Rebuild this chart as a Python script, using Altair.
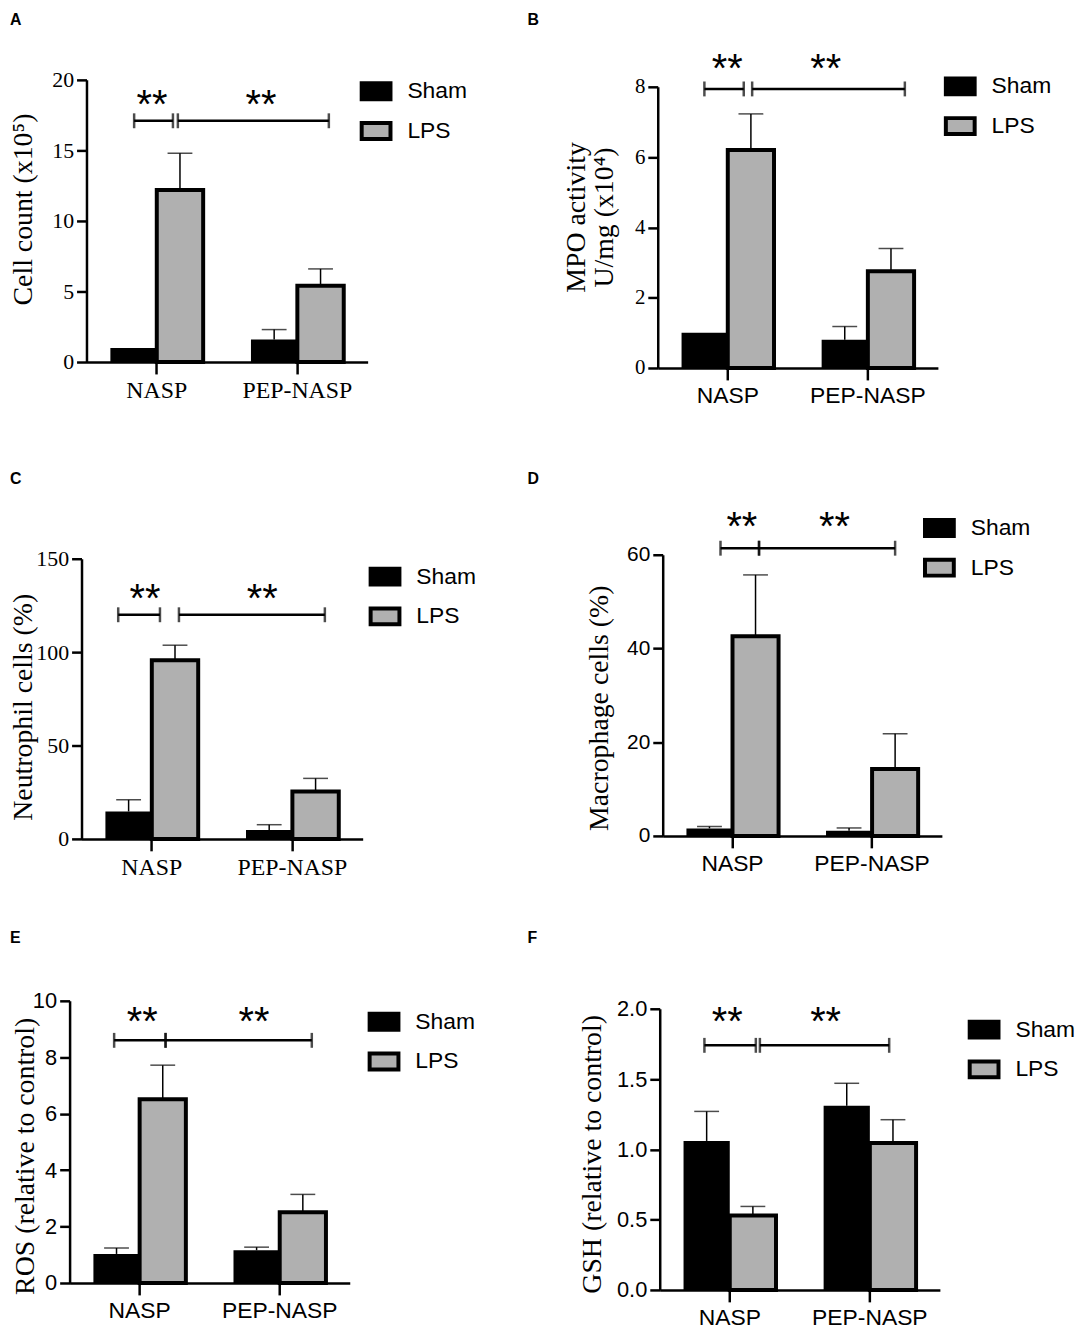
import altair as alt
import pandas as pd

CATEGORIES = ["NASP", "PEP-NASP"]
GROUPS = ["Sham", "LPS"]
COLORS = ["#000000", "#b0b0b0"]
STARS = "**"

# ---- Panel A : Cell count ----
A_SHAM = [1.0, 1.6]
A_SHAM_SEM = [0.0, 0.7]
A_LPS = [12.2, 5.4]
A_LPS_SEM = [2.6, 1.2]
A_TICKS = [0, 5, 10, 15, 20]
A_BRACKETS = [[0.339, 0.615], [0.650, 1.724]]
A_BRACKET_Y = 17.1
A_STAR_X = [0.466, 1.241]
A_STAR_Y = 18.6

# ---- Panel B : MPO activity ----
B_SHAM = [1.0, 0.8]
B_SHAM_SEM = [0.0, 0.38]
B_LPS = [6.2, 2.75]
B_LPS_SEM = [1.03, 0.65]
B_TICKS = [0, 2, 4, 6, 8]
B_BRACKETS = [[0.333, 0.614], [0.674, 1.764]]
B_BRACKET_Y = 7.94
B_STAR_X = [0.496, 1.199]
B_STAR_Y = 8.64

# ---- Panel C : Neutrophil cells ----
C_SHAM = [14.7, 4.8]
C_SHAM_SEM = [6.2, 2.8]
C_LPS = [95.6, 25.4]
C_LPS_SEM = [8.1, 7.0]
C_TICKS = [0, 50, 100, 150]
C_BRACKETS = [[0.261, 0.558], [0.693, 1.731]]
C_BRACKET_Y = 120
C_STAR_X = [0.452, 1.286]
C_STAR_Y = 131

# ---- Panel D : Macrophage cells ----
D_SHAM = [1.6, 1.1]
D_SHAM_SEM = [0.4, 0.6]
D_LPS = [42.6, 14.3]
D_LPS_SEM = [13.1, 7.5]
D_TICKS = [0, 20, 40, 60]
D_BRACKETS = [[0.414, 0.690], [0.690, 1.665]]
D_BRACKET_Y = 61.4
D_STAR_X = [0.567, 1.231]
D_STAR_Y = 67

# ---- Panel E : ROS ----
E_SHAM = [1.03, 1.16]
E_SHAM_SEM = [0.21, 0.11]
E_LPS = [6.51, 2.51]
E_LPS_SEM = [1.21, 0.63]
E_TICKS = [0, 2, 4, 6, 8, 10]
E_BRACKETS = [[0.318, 0.685], [0.685, 1.729]]
E_BRACKET_Y = 8.6
E_STAR_X = [0.518, 1.316]
E_STAR_Y = 9.44

# ---- Panel F : GSH ----
F_SHAM = [1.06, 1.31]
F_SHAM_SEM = [0.21, 0.16]
F_LPS = [0.53, 1.046]
F_LPS_SEM = [0.064, 0.165]
F_TICKS = [0.0, 0.5, 1.0, 1.5, 2.0]
F_BRACKETS = [[0.319, 0.686], [0.715, 1.638]]
F_BRACKET_Y = 1.74
F_STAR_X = [0.482, 1.184]
F_STAR_Y = 1.94

SERIF = "Liberation Serif"
SANS = "Liberation Sans"
CELL_W = 300
CELL_H = 301


def make_panel(letter, sham, sham_sem, lps, lps_sem, ticks, brackets, br_y,
               star_x, star_y, title, lay, anchor=False):
    rows = []
    for i, c in enumerate(CATEGORIES):
        rows.append(dict(cat=c, group="Sham", value=sham[i],
                         top=sham[i] + sham_sem[i], sem=sham_sem[i]))
        rows.append(dict(cat=c, group="LPS", value=lps[i],
                         top=lps[i] + lps_sem[i], sem=lps_sem[i]))
    df = pd.DataFrame(rows)

    dx, dy, w, h = lay["dx"], lay["dy"], lay["w"], lay["h"]
    yscale = alt.Scale(domain=[ticks[0], ticks[-1]], range=[dy + h, dy],
                       nice=False, zero=True)
    yaxis = alt.Axis(
        values=ticks, format=lay["fmt"], title=title,
        titleFont=SERIF, titleFontSize=28, titleFontWeight="normal",
        titleColor="black", titleAngle=270, titleX=lay["tx"], titleY=lay["ty"],
        titleAlign="center", titleBaseline="alphabetic", titleLineHeight=28,
        labelFont=lay["yfont"], labelFontSize=lay["ysize"], labelColor="black",
        labelPadding=3, tickSize=10, tickWidth=2.5, tickColor="black",
        domainColor="black", domainWidth=2.5, grid=False, offset=-dx)
    xscale = alt.Scale(domain=CATEGORIES, range=[dx, dx + w],
                       paddingInner=0.34, paddingOuter=0.17)
    xaxis = alt.Axis(
        title=None, labelAngle=0, labelFont=lay["xfont"],
        labelFontSize=lay["xsize"], labelColor="black", labelPadding=5,
        tickSize=12, tickWidth=2.5, tickColor="black", domainColor="black",
        domainWidth=2.5, grid=False, offset=dy + h - CELL_H)

    X = alt.X("cat:N", scale=xscale, axis=xaxis, sort=CATEGORIES)
    XO = alt.XOffset("group:N", scale=alt.Scale(domain=GROUPS), sort=GROUPS)
    legend = alt.Legend(
        title=None, orient="none", legendX=lay["lx"], legendY=lay["ly"],
        symbolType="M-1,-0.552H1V0.552H-1Z", symbolSize=841,
        symbolStrokeColor="black", symbolStrokeWidth=4, symbolOpacity=1,
        labelFont=SANS, labelFontSize=23, labelColor="black", labelOffset=15,
        rowPadding=7, padding=0, direction="vertical")
    COL = alt.Color("group:N", scale=alt.Scale(domain=GROUPS, range=COLORS),
                    legend=legend)

    base = alt.Chart(df)
    sham_bars = base.transform_filter("datum.group == 'Sham'").mark_bar(
        strokeWidth=0).encode(x=X, xOffset=XO,
                              y=alt.Y("value:Q", scale=yscale, axis=yaxis),
                              color=COL)
    lps_bars = base.transform_filter("datum.group == 'LPS'").mark_bar(
        stroke="black", strokeWidth=4).encode(
        x=X, xOffset=XO, y=alt.Y("value:Q", scale=yscale, axis=yaxis),
        color=COL)
    err = base.transform_filter("datum.sem > 0").mark_rule(
        color="black", strokeWidth=1.5).encode(
        x=X, xOffset=XO, y=alt.Y("value:Q", scale=yscale, axis=yaxis),
        y2="top:Q")
    caps = base.transform_filter("datum.sem > 0").mark_tick(
        color="black", thickness=1.5, size=25, orient="horizontal").encode(
        x=X, xOffset=XO, y=alt.Y("top:Q", scale=yscale, axis=yaxis))
    bars = alt.layer(sham_bars, lps_bars, err, caps)

    ux = alt.Scale(domain=[0, 2], range=[dx, dx + w], nice=False, zero=False)
    bdf = pd.DataFrame({"x1": [b[0] for b in brackets],
                        "x2": [b[1] for b in brackets],
                        "y": [br_y] * len(brackets)})
    ends = pd.DataFrame({"bx": [v for b in brackets for v in b],
                         "y": [br_y] * (2 * len(brackets))})
    sdf = pd.DataFrame({"sx": star_x, "sy": [star_y] * len(star_x),
                        "t": [STARS] * len(star_x)})
    br_lines = alt.Chart(bdf).mark_rule(color="black", strokeWidth=2.5).encode(
        x=alt.X("x1:Q", scale=ux, axis=None), x2="x2:Q",
        y=alt.Y("y:Q", scale=yscale, axis=yaxis))
    br_caps = alt.Chart(ends).mark_tick(
        color="black", thickness=2.5, size=15, orient="vertical").encode(
        x=alt.X("bx:Q", scale=ux, axis=None),
        y=alt.Y("y:Q", scale=yscale, axis=yaxis))
    stars = alt.Chart(sdf).mark_text(
        font=SANS, fontSize=40, align="center", baseline="alphabetic",
        dy=18, color="black").encode(
        x=alt.X("sx:Q", scale=ux, axis=None),
        y=alt.Y("sy:Q", scale=yscale, axis=yaxis), text="t:N")
    lab = alt.Chart(pd.DataFrame({"t": [letter]})).mark_text(
        font=SANS, fontSize=16, fontWeight="bold", align="left",
        baseline="alphabetic", color="black").encode(
        x=alt.value(lay["px"]), y=alt.value(lay["py"]), text="t:N")
    ann_layers = [br_lines, br_caps, stars, lab]
    if anchor:
        anc = alt.Chart(pd.DataFrame({"a": [0]})).mark_rect(opacity=0).encode(
            x=alt.value(-62), x2=alt.value(-58),
            y=alt.value(-68), y2=alt.value(-64))
        ann_layers.append(anc)
    ann = alt.layer(*ann_layers)
    return alt.layer(bars, ann).resolve_scale(x="independent").properties(
        width=CELL_W, height=CELL_H)


pA = make_panel("A", A_SHAM, A_SHAM_SEM, A_LPS, A_LPS_SEM, A_TICKS, A_BRACKETS,
                A_BRACKET_Y, A_STAR_X, A_STAR_Y, "Cell count (x10\u2075)",
                dict(dx=17, dy=0, w=283, h=284, tx=-55.5, ty=130, fmt="d",
                     yfont=SERIF, ysize=22, xfont=SERIF, xsize=24,
                     lx=292, ly=-5, px=-60, py=-55), anchor=True)
pB = make_panel("B", B_SHAM, B_SHAM_SEM, B_LPS, B_LPS_SEM, B_TICKS, B_BRACKETS,
                B_BRACKET_Y, B_STAR_X, B_STAR_Y,
                ["MPO activity", "U/mg (x10\u2074)"],
                dict(dx=0, dy=7, w=282, h=283, tx=-73.5, ty=138, fmt="d",
                     yfont=SERIF, ysize=21, xfont=SANS, xsize=23,
                     lx=288, ly=-10, px=-131, py=-55))
pC = make_panel("C", C_SHAM, C_SHAM_SEM, C_LPS, C_LPS_SEM, C_TICKS, C_BRACKETS,
                C_BRACKET_Y, C_STAR_X, C_STAR_Y, "Neutrophil cells (%)",
                dict(dx=12, dy=19, w=283, h=282, tx=-50.5, ty=168, fmt="d",
                     yfont=SERIF, ysize=22, xfont=SERIF, xsize=24,
                     lx=301, ly=20.5, px=-60, py=-56))
pD = make_panel("D", D_SHAM, D_SHAM_SEM, D_LPS, D_LPS_SEM, D_TICKS, D_BRACKETS,
                D_BRACKET_Y, D_STAR_X, D_STAR_Y, "Macrophage  cells (%)",
                dict(dx=5, dy=15, w=281, h=283, tx=-56, ty=169, fmt="d",
                     yfont=SANS, ysize=21, xfont=SANS, xsize=23,
                     lx=267, ly=-28.5, px=-131, py=-56))
pE = make_panel("E", E_SHAM, E_SHAM_SEM, E_LPS, E_LPS_SEM, E_TICKS, E_BRACKETS,
                E_BRACKET_Y, E_STAR_X, E_STAR_Y, "ROS (relative to control)",
                dict(dx=0, dy=1, w=282, h=284, tx=-36, ty=157, fmt="d",
                     yfont=SANS, ysize=22, xfont=SANS, xsize=23,
                     lx=300, ly=5.5, px=-60, py=-57))
pF = make_panel("F", F_SHAM, F_SHAM_SEM, F_LPS, F_LPS_SEM, F_TICKS, F_BRACKETS,
                F_BRACKET_Y, F_STAR_X, F_STAR_Y, "GSH (relative to control)",
                dict(dx=2, dy=9, w=282, h=283, tx=-59.7, ty=155, fmt=".1f",
                     yfont=SANS, ysize=22, xfont=SANS, xsize=23,
                     lx=312, ly=13.5, px=-131, py=-57))

chart = alt.concat(
    pA, pB, pC, pD, pE, pF, columns=2,
    spacing={"row": 162, "column": 292}, bounds="flush"
).resolve_scale(color="independent", xOffset="independent").properties(
    padding=0, background="white"
).configure_view(stroke=None)

chart.save("out.html", embed_options={"renderer": "svg", "actions": False})
